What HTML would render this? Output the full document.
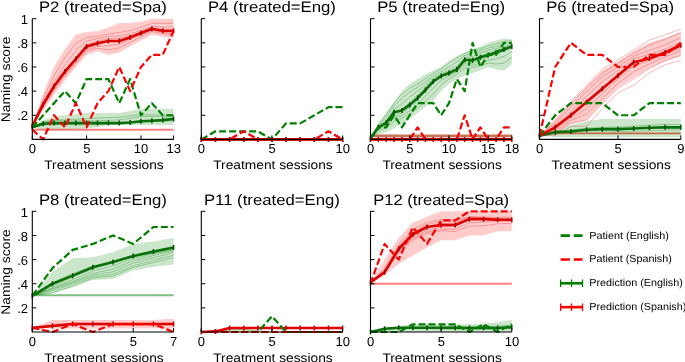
<!DOCTYPE html>
<html><head><meta charset="utf-8"><style>
html,body{margin:0;padding:0;background:#fff;width:685px;height:362px;overflow:hidden}
svg{display:block;will-change:transform}
text{font-family:"Liberation Sans",sans-serif;fill:#000;text-rendering:geometricPrecision}
</style></head><body>
<svg width="685" height="362" viewBox="0 0 685 362">
<rect width="685" height="362" fill="#fff"/>
<polygon points="32.3,127.33 43.17,120.09 54.04,116.47 64.91,115.26 75.78,114.05 86.65,113.09 97.52,113.09 108.38,113.09 119.25,113.09 130.12,111.04 140.99,108.74 151.86,108.74 162.73,108.74 173.6,108.74 173.6,124.92 162.73,124.92 151.86,124.92 140.99,124.92 130.12,124.92 119.25,124.92 108.38,124.92 97.52,127.33 86.65,128.54 75.78,129.14 64.91,129.74 54.04,129.74 43.17,129.74 32.3,127.33" fill="rgb(204,230,204)"/>
<polygon points="32.3,126.12 43.17,93.53 54.04,66.98 64.91,48.88 75.78,34.39 86.65,31.98 97.52,31.13 108.38,27.51 119.25,23.05 130.12,22.92 140.99,21.72 151.86,18.7 162.73,18.7 173.6,18.7 173.6,38.37 162.73,36.81 151.86,34.75 140.99,40.43 130.12,46.46 119.25,52.5 108.38,54.91 97.52,51.29 86.65,54.91 75.78,66.98 64.91,80.26 54.04,94.74 43.17,110.43 32.3,126.12" fill="rgb(255,204,204)"/>
<polyline points="32.3,127.33 43.17,125.21 54.04,124.57 64.91,124.64 75.78,124.75 86.65,124.89 97.52,124.67 108.38,123.79 119.25,123.74 130.12,123.22 140.99,122.19 151.86,121.62 162.73,121.21 173.6,120.54" fill="none" stroke="rgba(0,128,0,0.35)" stroke-width="0.9"/>
<polyline points="32.3,127.33 43.17,122.34 54.04,120.76 64.91,120.73 75.78,120.83 86.65,120.88 97.52,120.81 108.38,120.4 119.25,119.85 130.12,118.28 140.99,116.54 151.86,116.47 162.73,116.66 173.6,116.35" fill="none" stroke="rgba(0,128,0,0.35)" stroke-width="0.9"/>
<polyline points="32.3,127.33 43.17,121.77 54.04,119.92 64.91,119.7 75.78,119.3 86.65,118.66 97.52,118.16 108.38,117.63 119.25,117.32 130.12,115.94 140.99,114.6 151.86,114.98 162.73,115.17 173.6,114.62" fill="none" stroke="rgba(0,128,0,0.35)" stroke-width="0.9"/>
<polyline points="32.3,126.12 43.17,107.41 54.04,90.27 64.91,75.75 75.78,63.18 86.65,51.35 97.52,48.21 108.38,49.75 119.25,47.92 130.12,42.38 140.99,36.67 151.86,31.62 162.73,33.68 173.6,34.76" fill="none" stroke="rgba(230,0,0,0.3)" stroke-width="0.9"/>
<polyline points="32.3,126.12 43.17,105.73 54.04,88.37 64.91,74.14 75.78,61.79 86.65,49.66 97.52,46.2 108.38,45.61 119.25,44.18 130.12,39.51 140.99,34.6 151.86,30.3 162.73,32.57 173.6,33.43" fill="none" stroke="rgba(230,0,0,0.3)" stroke-width="0.9"/>
<polyline points="32.3,126.12 43.17,104.79 54.04,87.31 64.91,73 75.78,60.45 86.65,47.78 97.52,44.06 108.38,41.78 119.25,41.29 130.12,37.66 140.99,33.44 151.86,29.56 162.73,31.77 173.6,32.14" fill="none" stroke="rgba(230,0,0,0.3)" stroke-width="0.9"/>
<polyline points="32.3,126.12 43.17,103.77 54.04,85.83 64.91,70.98 75.78,57.47 86.65,44.76 97.52,41.23 108.38,38.6 119.25,38.17 130.12,35.82 140.99,32.31 151.86,28.6 162.73,30.45 173.6,30" fill="none" stroke="rgba(230,0,0,0.3)" stroke-width="0.9"/>
<polyline points="32.3,126.12 43.17,102.01 54.04,81.69 64.91,65.09 75.78,50.65 86.65,41.03 97.52,38.67 108.38,36.43 119.25,35.89 130.12,33.95 140.99,30.47 151.86,26.42 162.73,27.31 173.6,26.66" fill="none" stroke="rgba(230,0,0,0.3)" stroke-width="0.9"/>
<polyline points="32.3,126.12 43.17,98.9 54.04,75.49 64.91,57.76 75.78,43.5 86.65,37.57 97.52,36.35 108.38,34.09 119.25,32.47 130.12,30.55 140.99,27.25 151.86,23.15 162.73,23.42 173.6,23.17" fill="none" stroke="rgba(230,0,0,0.3)" stroke-width="0.9"/>
<line x1="32.3" y1="129.74" x2="173.6" y2="129.74" stroke="rgba(255,0,0,0.5)" stroke-width="1.9"/>
<polyline points="32.3,127.33 43.17,123.71 54.04,123.11 64.91,123.11 75.78,123.11 86.65,123.11 97.52,123.11 108.38,123.11 119.25,123.11 130.12,122.5 140.99,121.3 151.86,120.69 162.73,120.09 173.6,118.88" fill="none" stroke="#0a700a" stroke-width="2.6" stroke-linejoin="round"/>
<path d="M32.3 124.83v5M43.17 121.21v5M54.04 120.61v5M64.91 120.61v5M75.78 120.61v5M86.65 120.61v5M97.52 120.61v5M108.38 120.61v5M119.25 120.61v5M130.12 120v5M140.99 118.8v5M151.86 118.19v5M162.73 117.59v5M173.6 116.38v5" stroke="#005000" stroke-width="1.5"/>
<polyline points="32.3,126.12 43.17,104.4 54.04,86.29 64.91,71.57 75.78,59.01 86.65,46.46 97.52,43.2 108.38,41.03 119.25,41.03 130.12,37.41 140.99,32.94 151.86,28.84 162.73,30.77 173.6,30.77" fill="none" stroke="#dc0000" stroke-width="2.6" stroke-linejoin="round"/>
<path d="M32.3 123.62v5M43.17 101.9v5M54.04 83.79v5M64.91 69.07v5M75.78 56.51v5M86.65 43.96v5M97.52 40.7v5M108.38 38.53v5M119.25 38.53v5M130.12 34.91v5M140.99 30.44v5M151.86 26.34v5M162.73 28.27v5M173.6 28.27v5" stroke="#b00000" stroke-width="1.5"/>
<polyline points="32.3,127.33 43.17,115.26 54.04,103.19 64.91,91.12 75.78,103.19 86.65,79.05 97.52,79.05 108.38,79.05 119.25,103.19 130.12,79.05 140.99,115.26 151.86,103.19 162.73,115.26 173.6,115.26" fill="none" stroke="#008000" stroke-width="2.2" stroke-dasharray="7 3" stroke-linejoin="round"/>
<polyline points="32.3,129.74 43.17,139.4 54.04,115.26 64.91,127.33 75.78,103.19 86.65,127.33 97.52,103.19 108.38,91.12 119.25,66.98 130.12,91.12 140.99,66.98 151.86,54.91 162.73,54.91 173.6,30.77" fill="none" stroke="#ff0000" stroke-width="2.2" stroke-dasharray="7 3" stroke-linejoin="round"/>
<path d="M32.3 18.4V139.4H173.6" fill="none" stroke="#000" stroke-width="1.1"/>
<path d="M32.3 115.26h4M32.3 91.12h4M32.3 66.98h4M32.3 42.84h4M32.3 18.7h4M32.3 139.4v-4M86.65 139.4v-4M140.99 139.4v-4M173.6 139.4v-4" stroke="#000" stroke-width="1"/>
<text x="28" y="120.46" text-anchor="end" font-size="13">.2</text>
<text x="28" y="96.32" text-anchor="end" font-size="13">.4</text>
<text x="28" y="72.18" text-anchor="end" font-size="13">.6</text>
<text x="28" y="48.04" text-anchor="end" font-size="13">.8</text>
<text x="28" y="23.9" text-anchor="end" font-size="13">1</text>
<text transform="translate(9.7 79.4) rotate(-90)" text-anchor="middle" font-size="12.6" textLength="85.5" lengthAdjust="spacingAndGlyphs">Naming score</text>
<text x="32.4" y="153" text-anchor="middle" font-size="13">0</text>
<text x="86.75" y="153" text-anchor="middle" font-size="13">5</text>
<text x="141.09" y="153" text-anchor="middle" font-size="13">10</text>
<text x="173.7" y="153" text-anchor="middle" font-size="13">13</text>
<text x="103.95" y="169.3" text-anchor="middle" font-size="12.4" textLength="119.5" lengthAdjust="spacingAndGlyphs">Treatment sessions</text>
<text x="102.95" y="11.9" text-anchor="middle" font-size="15.1" textLength="128" lengthAdjust="spacingAndGlyphs">P2 (treated=Spa)</text>
<polyline points="201.3,139.4 215.43,139.4 229.56,139.4 243.69,139.4 257.82,139.4 271.95,139.4 286.08,139.4 300.21,139.4 314.34,139.4 328.47,139.4 342.6,139.4" fill="none" stroke="#008000" stroke-width="2.6" stroke-linejoin="round"/>
<path d="M201.3 136.9v5M215.43 136.9v5M229.56 136.9v5M243.69 136.9v5M257.82 136.9v5M271.95 136.9v5M286.08 136.9v5M300.21 136.9v5M314.34 136.9v5M328.47 136.9v5M342.6 136.9v5" stroke="#005000" stroke-width="1.5"/>
<polyline points="201.3,139.4 215.43,139.4 229.56,139.4 243.69,139.4 257.82,139.4 271.95,139.4 286.08,139.4 300.21,139.4 314.34,139.4 328.47,139.4 342.6,139.4" fill="none" stroke="#f00000" stroke-width="2.6" stroke-linejoin="round"/>
<path d="M201.3 136.9v5M215.43 136.9v5M229.56 136.9v5M243.69 136.9v5M257.82 136.9v5M271.95 136.9v5M286.08 136.9v5M300.21 136.9v5M314.34 136.9v5M328.47 136.9v5M342.6 136.9v5" stroke="#b00000" stroke-width="1.5"/>
<polyline points="201.3,139.4 215.43,131.31 229.56,131.31 243.69,131.31 257.82,131.31 271.95,139.4 286.08,123.35 300.21,123.35 314.34,115.26 328.47,107.17 342.6,107.17" fill="none" stroke="#008000" stroke-width="2.2" stroke-dasharray="7 3" stroke-linejoin="round"/>
<polyline points="201.3,139.4 215.43,139.4 229.56,139.4 243.69,131.31 257.82,139.4 271.95,139.4 286.08,139.4 300.21,139.4 314.34,139.4 328.47,131.31 342.6,139.4" fill="none" stroke="#ff0000" stroke-width="2.2" stroke-dasharray="7 3" stroke-linejoin="round"/>
<path d="M201.3 18.4V139.4H342.6" fill="none" stroke="#000" stroke-width="1.1"/>
<path d="M201.3 115.26h4M201.3 91.12h4M201.3 66.98h4M201.3 42.84h4M201.3 18.7h4M201.3 139.4v-4M271.95 139.4v-4M342.6 139.4v-4" stroke="#000" stroke-width="1"/>
<text x="201.4" y="153" text-anchor="middle" font-size="13">0</text>
<text x="272.05" y="153" text-anchor="middle" font-size="13">5</text>
<text x="342.7" y="153" text-anchor="middle" font-size="13">10</text>
<text x="272.95" y="169.3" text-anchor="middle" font-size="12.4" textLength="119.5" lengthAdjust="spacingAndGlyphs">Treatment sessions</text>
<text x="271.95" y="11.9" text-anchor="middle" font-size="15.1" textLength="128" lengthAdjust="spacingAndGlyphs">P4 (treated=Eng)</text>
<polygon points="370.5,138.19 378.35,123.71 386.2,112.85 394.05,101.98 401.9,91.12 409.75,83.88 417.6,79.05 425.45,74.22 433.3,70.6 441.15,66.98 449,60.95 456.85,56.12 464.7,52.5 472.55,48.88 480.4,46.46 488.25,42.84 496.1,40.43 503.95,38.62 511.8,39.22 511.8,64.57 503.95,70.6 496.1,69.39 488.25,66.98 480.4,70.6 472.55,73.02 464.7,75.43 456.85,79.05 449,83.88 441.15,91.12 433.3,100.78 425.45,106.81 417.6,112.85 409.75,118.88 401.9,123.71 394.05,128.54 386.2,132.16 378.35,134.57 370.5,138.19" fill="rgb(204,230,204)"/>
<polygon points="370.5,139.4 378.35,135.78 386.2,135.78 394.05,135.78 401.9,135.78 409.75,135.78 417.6,135.78 425.45,135.78 433.3,135.78 441.15,135.78 449,135.78 456.85,135.78 464.7,135.78 472.55,135.78 480.4,135.78 488.25,135.78 496.1,135.78 503.95,135.78 511.8,135.78 511.8,139.4 503.95,139.4 496.1,139.4 488.25,139.4 480.4,139.4 472.55,139.4 464.7,139.4 456.85,139.4 449,139.4 441.15,139.4 433.3,139.4 425.45,139.4 417.6,139.4 409.75,139.4 401.9,139.4 394.05,139.4 386.2,139.4 378.35,139.4 370.5,139.4" fill="rgb(255,204,204)"/>
<polyline points="370.5,138.19 378.35,131.3 386.2,127.71 394.05,120.95 401.9,118.04 409.75,113.67 417.6,107.94 425.45,101.38 433.3,94.03 441.15,85.06 449,78.96 456.85,74.42 464.7,68.08 472.55,67.62 480.4,65.68 488.25,63 496.1,63.96 503.95,63.2 511.8,57.28" fill="none" stroke="rgba(0,128,0,0.35)" stroke-width="0.9"/>
<polyline points="370.5,138.19 378.35,129.29 386.2,125.61 394.05,117.97 401.9,115.73 409.75,110.88 417.6,104.25 425.45,96.33 433.3,87.74 441.15,80.29 449,75.96 456.85,72.26 464.7,65.2 472.55,65.41 480.4,63.01 488.25,59.98 496.1,58.89 503.95,56.32 511.8,51.55" fill="none" stroke="rgba(0,128,0,0.35)" stroke-width="0.9"/>
<polyline points="370.5,138.19 378.35,128.17 386.2,124.45 394.05,115.85 401.9,113.48 409.75,107.77 417.6,100.33 425.45,91.67 433.3,82.87 441.15,77.21 449,74.29 456.85,71.05 464.7,63.13 472.55,63.25 480.4,60.05 488.25,56.78 496.1,54.23 503.95,51 511.8,47.88" fill="none" stroke="rgba(0,128,0,0.35)" stroke-width="0.9"/>
<polyline points="370.5,138.19 378.35,127.12 386.2,122.62 394.05,112.09 401.9,109.22 409.75,102.42 417.6,94.9 425.45,87.09 433.3,79.74 441.15,75.04 449,72.33 456.85,69.08 464.7,59.55 472.55,59.61 480.4,56.04 488.25,52.93 496.1,50.33 503.95,47.76 511.8,45.67" fill="none" stroke="rgba(0,128,0,0.35)" stroke-width="0.9"/>
<polyline points="370.5,138.19 378.35,126.53 386.2,120.48 394.05,109.4 401.9,103.88 409.75,97 417.6,90.89 425.45,84.58 433.3,78.36 441.15,73.87 449,70.36 456.85,66.22 464.7,57.66 472.55,56.43 480.4,53.24 488.25,50.39 496.1,48.41 503.95,46.39 511.8,44.74" fill="none" stroke="rgba(0,128,0,0.35)" stroke-width="0.9"/>
<polyline points="370.5,138.19 378.35,125.5 386.2,117.26 394.05,106.05 401.9,98.27 409.75,91.99 417.6,87.24 425.45,81.86 433.3,76.29 441.15,71.74 449,66.89 456.85,61.95 464.7,55.33 472.55,53.12 480.4,50.66 488.25,48.07 496.1,46.31 503.95,44.31 511.8,43.03" fill="none" stroke="rgba(0,128,0,0.35)" stroke-width="0.9"/>
<polyline points="370.5,138.19 378.35,124.32 386.2,114.13 394.05,103.25 401.9,94.08 409.75,88.2 417.6,83.9 425.45,78.61 433.3,73.49 441.15,68.98 449,62.95 456.85,57.81 464.7,53.38 472.55,50.64 480.4,48.71 488.25,45.94 496.1,43.8 503.95,41.49 511.8,40.81" fill="none" stroke="rgba(0,128,0,0.35)" stroke-width="0.9"/>
<line x1="370.5" y1="135.78" x2="511.8" y2="135.78" stroke="rgb(200,115,85)" stroke-width="2.4"/>
<polyline points="370.5,139.4 378.35,139.4 386.2,139.4 394.05,139.4 401.9,139.4 409.75,139.4 417.6,139.4 425.45,139.4 433.3,139.4 441.15,139.4 449,139.4 456.85,139.4 464.7,139.4 472.55,139.4 480.4,139.4 488.25,139.4 496.1,139.4 503.95,139.4 511.8,139.4" fill="none" stroke="#f00000" stroke-width="2.6" stroke-linejoin="round"/>
<path d="M370.5 136.9v5M378.35 136.9v5M386.2 136.9v5M394.05 136.9v5M401.9 136.9v5M409.75 136.9v5M417.6 136.9v5M425.45 136.9v5M433.3 136.9v5M441.15 136.9v5M449 136.9v5M456.85 136.9v5M464.7 136.9v5M472.55 136.9v5M480.4 136.9v5M488.25 136.9v5M496.1 136.9v5M503.95 136.9v5M511.8 136.9v5" stroke="#b00000" stroke-width="1.5"/>
<polyline points="370.5,138.19 378.35,127.33 386.2,122.86 394.05,112.36 401.9,110.43 409.75,104.88 417.6,98 425.45,89.91 433.3,81.46 441.15,76.03 449,73.02 456.85,69.39 464.7,59.74 472.55,60.34 480.4,57.32 488.25,54.91 496.1,52.5 503.95,49.48 511.8,46.46" fill="none" stroke="#0a700a" stroke-width="2.6" stroke-linejoin="round"/>
<path d="M370.5 135.69v5M378.35 124.83v5M386.2 120.36v5M394.05 109.86v5M401.9 107.93v5M409.75 102.38v5M417.6 95.5v5M425.45 87.41v5M433.3 78.96v5M441.15 73.53v5M449 70.52v5M456.85 66.89v5M464.7 57.24v5M472.55 57.84v5M480.4 54.82v5M488.25 52.41v5M496.1 50v5M503.95 46.98v5M511.8 43.96v5" stroke="#005000" stroke-width="1.5"/>
<polyline points="370.5,139.4 378.35,127.33 386.2,127.33 394.05,115.26 401.9,127.33 409.75,115.26 417.6,103.19 425.45,103.19 433.3,103.19 441.15,115.26 449,103.19 456.85,79.05 464.7,91.12 472.55,42.84 480.4,66.98 488.25,54.91 496.1,54.91 503.95,42.84 511.8,42.84" fill="none" stroke="#008000" stroke-width="2.2" stroke-dasharray="7 3" stroke-linejoin="round"/>
<polyline points="370.5,139.4 378.35,139.4 386.2,139.4 394.05,139.4 401.9,139.4 409.75,139.4 417.6,127.33 425.45,139.4 433.3,139.4 441.15,139.4 449,139.4 456.85,139.4 464.7,115.26 472.55,139.4 480.4,127.33 488.25,139.4 496.1,139.4 503.95,127.33 511.8,127.33" fill="none" stroke="#ff0000" stroke-width="2.2" stroke-dasharray="7 3" stroke-linejoin="round"/>
<path d="M370.5 18.4V139.4H511.8" fill="none" stroke="#000" stroke-width="1.1"/>
<path d="M370.5 115.26h4M370.5 91.12h4M370.5 66.98h4M370.5 42.84h4M370.5 18.7h4M370.5 139.4v-4M409.75 139.4v-4M449 139.4v-4M488.25 139.4v-4M511.8 139.4v-4" stroke="#000" stroke-width="1"/>
<text x="370.6" y="153" text-anchor="middle" font-size="13">0</text>
<text x="409.85" y="153" text-anchor="middle" font-size="13">5</text>
<text x="449.1" y="153" text-anchor="middle" font-size="13">10</text>
<text x="488.35" y="153" text-anchor="middle" font-size="13">15</text>
<text x="511.9" y="153" text-anchor="middle" font-size="13">18</text>
<text x="442.15" y="169.3" text-anchor="middle" font-size="12.4" textLength="119.5" lengthAdjust="spacingAndGlyphs">Treatment sessions</text>
<text x="441.15" y="11.9" text-anchor="middle" font-size="15.1" textLength="128" lengthAdjust="spacingAndGlyphs">P5 (treated=Eng)</text>
<polygon points="539.5,135.78 555.2,128.54 570.9,124.92 586.6,121.3 602.3,118.88 618,118.88 633.7,118.88 649.4,118.88 665.1,118.88 680.8,118.88 680.8,136.99 665.1,136.99 649.4,136.99 633.7,136.99 618,136.99 602.3,136.99 586.6,136.99 570.9,136.99 555.2,136.99 539.5,135.78" fill="rgb(204,230,204)"/>
<polygon points="539.5,135.78 555.2,121.3 570.9,103.19 586.6,86.29 602.3,70.6 618,60.95 633.7,51.29 649.4,42.84 665.1,38.01 680.8,31.98 680.8,56.12 665.1,60.95 649.4,68.19 633.7,77.84 618,87.5 602.3,103.19 586.6,120.09 570.9,123.71 555.2,133.37 539.5,135.78" fill="rgb(255,204,204)"/>
<polyline points="539.5,135.78 555.2,133.12 570.9,132.48 586.6,131.05 602.3,130.89 618,131.32 633.7,131.24 649.4,130.75 665.1,130.23 680.8,129.73" fill="none" stroke="rgba(0,128,0,0.35)" stroke-width="0.9"/>
<polyline points="539.5,135.78 555.2,131.87 570.9,131.2 586.6,129.72 602.3,129.52 618,129.75 633.7,129.13 649.4,127.97 665.1,127.12 680.8,126.76" fill="none" stroke="rgba(0,128,0,0.35)" stroke-width="0.9"/>
<polyline points="539.5,135.78 555.2,131.13 570.9,130.03 586.6,128.18 602.3,127.39 618,127.15 633.7,126.19 649.4,125.08 665.1,124.56 680.8,124.61" fill="none" stroke="rgba(0,128,0,0.35)" stroke-width="0.9"/>
<polyline points="539.5,135.78 555.2,135.47 570.9,126.42 586.6,126.08 602.3,108.6 618,92.67 633.7,85.21 649.4,72.81 665.1,64.75 680.8,60.45" fill="none" stroke="rgba(230,0,0,0.3)" stroke-width="0.9"/>
<polyline points="539.5,135.78 555.2,132.89 570.9,123.25 586.6,120.03 602.3,103.9 618,88.44 633.7,78.95 649.4,68.48 665.1,60.73 680.8,55.38" fill="none" stroke="rgba(230,0,0,0.3)" stroke-width="0.9"/>
<polyline points="539.5,135.78 555.2,130.74 570.9,120.5 586.6,114.03 602.3,98.55 618,83.35 633.7,71.67 649.4,63.88 665.1,56.91 680.8,50.99" fill="none" stroke="rgba(230,0,0,0.3)" stroke-width="0.9"/>
<polyline points="539.5,135.78 555.2,129.4 570.9,118.44 586.6,108.76 602.3,93.59 618,78.84 633.7,65.86 649.4,60.66 665.1,54.53 680.8,48.4" fill="none" stroke="rgba(230,0,0,0.3)" stroke-width="0.9"/>
<polyline points="539.5,135.78 555.2,127.81 570.9,115.78 586.6,102.25 602.3,87.99 618,74.34 633.7,61.33 649.4,57.9 665.1,52.61 680.8,45.92" fill="none" stroke="rgba(230,0,0,0.3)" stroke-width="0.9"/>
<polyline points="539.5,135.78 555.2,125.79 570.9,111.53 586.6,96.36 602.3,81.83 618,70.16 633.7,58.7 649.4,54.4 665.1,49.22 680.8,42.28" fill="none" stroke="rgba(230,0,0,0.3)" stroke-width="0.9"/>
<polyline points="539.5,135.78 555.2,123.51 570.9,107.15 586.6,91.35 602.3,77 618,66.83 633.7,56.24 649.4,50.37 665.1,44.76 680.8,37.57" fill="none" stroke="rgba(230,0,0,0.3)" stroke-width="0.9"/>
<polyline points="539.5,135.78 555.2,121.42 570.9,103.57 586.6,87.46 602.3,72.94 618,63.41 633.7,53.23 649.4,45.19 665.1,39.42 680.8,32.59" fill="none" stroke="rgba(230,0,0,0.3)" stroke-width="0.9"/>
<polyline points="539.5,135.78 555.2,120.07 570.9,101.36 586.6,84.72 602.3,69.31 618,59.79 633.7,49.97 649.4,40.08 665.1,34.84 680.8,28.94" fill="none" stroke="rgba(230,0,0,0.3)" stroke-width="0.9"/>
<line x1="539.5" y1="133.37" x2="680.8" y2="133.37" stroke="rgb(195,105,70)" stroke-width="1.8"/>
<polyline points="539.5,135.78 555.2,132.16 570.9,131.55 586.6,129.74 602.3,129.14 618,129.14 633.7,128.54 649.4,127.69 665.1,127.33 680.8,127.33" fill="none" stroke="#0a700a" stroke-width="2.6" stroke-linejoin="round"/>
<path d="M539.5 133.28v5M555.2 129.66v5M570.9 129.05v5M586.6 127.24v5M602.3 126.64v5M618 126.64v5M633.7 126.04v5M649.4 125.19v5M665.1 124.83v5M680.8 124.83v5" stroke="#005000" stroke-width="1.5"/>
<polyline points="539.5,135.78 555.2,127.33 570.9,115.26 586.6,101.98 602.3,88.71 618,75.43 633.7,62.15 649.4,58.53 665.1,52.5 680.8,45.25" fill="none" stroke="#dc0000" stroke-width="2.6" stroke-linejoin="round"/>
<path d="M539.5 133.28v5M555.2 124.83v5M570.9 112.76v5M586.6 99.48v5M602.3 86.21v5M618 72.93v5M633.7 59.65v5M649.4 56.03v5M665.1 50v5M680.8 42.75v5" stroke="#b00000" stroke-width="1.5"/>
<polyline points="539.5,135.78 555.2,115.26 570.9,103.19 586.6,103.19 602.3,103.19 618,115.26 633.7,115.26 649.4,103.19 665.1,103.19 680.8,103.19" fill="none" stroke="#008000" stroke-width="2.2" stroke-dasharray="7 3" stroke-linejoin="round"/>
<polyline points="539.5,135.78 555.2,66.98 570.9,42.84 586.6,54.91 602.3,54.91 618,66.98 633.7,66.98 649.4,54.91 665.1,54.91 680.8,42.84" fill="none" stroke="#ff0000" stroke-width="2.2" stroke-dasharray="7 3" stroke-linejoin="round"/>
<path d="M539.5 18.4V139.4H680.8" fill="none" stroke="#000" stroke-width="1.1"/>
<path d="M539.5 115.26h4M539.5 91.12h4M539.5 66.98h4M539.5 42.84h4M539.5 18.7h4M539.5 139.4v-4M618 139.4v-4M680.8 139.4v-4" stroke="#000" stroke-width="1"/>
<text x="539.6" y="153" text-anchor="middle" font-size="13">0</text>
<text x="618.1" y="153" text-anchor="middle" font-size="13">5</text>
<text x="680.9" y="153" text-anchor="middle" font-size="13">9</text>
<text x="611.15" y="169.3" text-anchor="middle" font-size="12.4" textLength="119.5" lengthAdjust="spacingAndGlyphs">Treatment sessions</text>
<text x="610.15" y="11.9" text-anchor="middle" font-size="15.1" textLength="128" lengthAdjust="spacingAndGlyphs">P6 (treated=Spa)</text>
<polygon points="32.3,295.79 52.49,271.65 72.67,258.37 92.86,257.17 113.04,252.34 133.23,243.89 153.41,241.47 173.6,237.85 173.6,264.41 153.41,266.82 133.23,270.44 113.04,278.89 92.86,280.1 72.67,287.34 52.49,293.38 32.3,295.79" fill="rgb(204,230,204)"/>
<polygon points="32.3,327.9 52.49,319.93 72.67,319.93 92.86,319.93 113.04,319.93 133.23,319.93 153.41,319.93 173.6,318.72 173.6,328.38 153.41,328.38 133.23,328.38 113.04,328.38 92.86,328.38 72.67,328.38 52.49,328.38 32.3,327.9" fill="rgb(255,204,204)"/>
<polyline points="32.3,295.79 52.49,292.79 72.67,286.02 92.86,278.23 113.04,276.02 133.23,267.43 153.41,262.5 173.6,257.53" fill="none" stroke="rgba(0,128,0,0.35)" stroke-width="0.9"/>
<polyline points="32.3,295.79 52.49,290.61 72.67,284.05 92.86,276.66 113.04,274.23 133.23,265.76 153.41,260.48 173.6,255.22" fill="none" stroke="rgba(0,128,0,0.35)" stroke-width="0.9"/>
<polyline points="32.3,295.79 52.49,289.13 72.67,282.63 92.86,275.12 113.04,271.79 133.23,263.28 153.41,257.79 173.6,252.66" fill="none" stroke="rgba(0,128,0,0.35)" stroke-width="0.9"/>
<polyline points="32.3,295.79 52.49,288.43 72.67,281.57 92.86,273.46 113.04,269.02 133.23,260.79 153.41,255.55 173.6,250.95" fill="none" stroke="rgba(0,128,0,0.35)" stroke-width="0.9"/>
<polyline points="32.3,295.79 52.49,287.36 72.67,279.71 92.86,271 113.04,265.75 133.23,258.47 153.41,253.9 173.6,249.93" fill="none" stroke="rgba(0,128,0,0.35)" stroke-width="0.9"/>
<polyline points="32.3,295.79 52.49,285.58 72.67,277.22 92.86,268.38 113.04,263 133.23,256.92 153.41,252.96 173.6,249.24" fill="none" stroke="rgba(0,128,0,0.35)" stroke-width="0.9"/>
<polyline points="32.3,295.79 52.49,282.73 72.67,273.61 92.86,266.12 113.04,261.2 133.23,255.55 153.41,251.67 173.6,247.79" fill="none" stroke="rgba(0,128,0,0.35)" stroke-width="0.9"/>
<polyline points="32.3,327.9 52.49,326.44 72.67,324.75 92.86,324.76 113.04,324.86 133.23,324.96 153.41,324.96 173.6,324.82" fill="none" stroke="rgba(230,0,0,0.3)" stroke-width="0.9"/>
<polyline points="32.3,327.9 52.49,325.49 72.67,323.82 92.86,324.02 113.04,324.22 133.23,324.3 153.41,324.24 173.6,324.11" fill="none" stroke="rgba(230,0,0,0.3)" stroke-width="0.9"/>
<polyline points="32.3,327.9 52.49,324.27 72.67,323.13 92.86,323.34 113.04,323.44 133.23,323.42 153.41,323.37 173.6,323.17" fill="none" stroke="rgba(230,0,0,0.3)" stroke-width="0.9"/>
<line x1="32.3" y1="295.31" x2="173.6" y2="295.31" stroke="rgba(0,128,0,0.5)" stroke-width="1.9"/>
<polyline points="32.3,327.9 52.49,325.96 72.67,324.03 92.86,324.03 113.04,324.03 133.23,324.03 153.41,324.03 173.6,324.03" fill="none" stroke="#dc0000" stroke-width="2.6" stroke-linejoin="round"/>
<path d="M32.3 325.4v5M52.49 323.46v5M72.67 321.53v5M92.86 321.53v5M113.04 321.53v5M133.23 321.53v5M153.41 321.53v5M173.6 321.53v5" stroke="#b00000" stroke-width="1.5"/>
<polyline points="32.3,295.79 52.49,283.72 72.67,275.63 92.86,267.3 113.04,261.99 133.23,255.96 153.41,251.61 173.6,247.51" fill="none" stroke="#0a700a" stroke-width="2.6" stroke-linejoin="round"/>
<path d="M32.3 293.29v5M52.49 281.22v5M72.67 273.13v5M92.86 264.8v5M113.04 259.49v5M133.23 253.46v5M153.41 249.11v5M173.6 245.01v5" stroke="#005000" stroke-width="1.5"/>
<polyline points="32.3,295.79 52.49,268.03 72.67,249.92 92.86,243.89 113.04,235.44 133.23,243.89 153.41,226.99 173.6,226.99" fill="none" stroke="#008000" stroke-width="2.2" stroke-dasharray="7 3" stroke-linejoin="round"/>
<polyline points="32.3,327.9 52.49,332 72.67,324.03 92.86,332 113.04,324.03 133.23,324.03 153.41,324.03 173.6,332" fill="none" stroke="#ff0000" stroke-width="2.2" stroke-dasharray="7 3" stroke-linejoin="round"/>
<path d="M32.3 211V332H173.6" fill="none" stroke="#000" stroke-width="1.1"/>
<path d="M32.3 307.86h4M32.3 283.72h4M32.3 259.58h4M32.3 235.44h4M32.3 211.3h4M32.3 332v-4M133.23 332v-4M173.6 332v-4" stroke="#000" stroke-width="1"/>
<text x="28" y="313.06" text-anchor="end" font-size="13">.2</text>
<text x="28" y="288.92" text-anchor="end" font-size="13">.4</text>
<text x="28" y="264.78" text-anchor="end" font-size="13">.6</text>
<text x="28" y="240.64" text-anchor="end" font-size="13">.8</text>
<text x="28" y="216.5" text-anchor="end" font-size="13">1</text>
<text transform="translate(9.7 272) rotate(-90)" text-anchor="middle" font-size="12.6" textLength="85.5" lengthAdjust="spacingAndGlyphs">Naming score</text>
<text x="32.4" y="345.6" text-anchor="middle" font-size="13">0</text>
<text x="133.33" y="345.6" text-anchor="middle" font-size="13">5</text>
<text x="173.7" y="345.6" text-anchor="middle" font-size="13">7</text>
<text x="103.95" y="361.9" text-anchor="middle" font-size="12.4" textLength="119.5" lengthAdjust="spacingAndGlyphs">Treatment sessions</text>
<text x="102.95" y="204.5" text-anchor="middle" font-size="15.1" textLength="128" lengthAdjust="spacingAndGlyphs">P8 (treated=Eng)</text>
<polygon points="201.3,332 215.43,332 229.56,329.59 243.69,328.98 257.82,330.55 271.95,332 286.08,332 300.21,332 314.34,332 328.47,332 342.6,332 342.6,332 328.47,332 314.34,332 300.21,332 286.08,332 271.95,332 257.82,332 243.69,332 229.56,332 215.43,332 201.3,332" fill="rgb(204,230,204)"/>
<polyline points="201.3,332 215.43,332 229.56,329.88 243.69,329.38 257.82,330.8 271.95,332 286.08,332 300.21,332 314.34,332 328.47,332 342.6,332" fill="none" stroke="rgba(0,128,0,0.35)" stroke-width="0.9"/>
<polyline points="201.3,332 215.43,331.4 229.56,328.02 243.69,328.02 257.82,328.02 271.95,328.02 286.08,328.02 300.21,328.02 314.34,328.02 328.47,328.02 342.6,328.02" fill="none" stroke="#e80000" stroke-width="2.6" stroke-linejoin="round"/>
<path d="M201.3 329.5v5M215.43 328.9v5M229.56 325.52v5M243.69 325.52v5M257.82 325.52v5M271.95 325.52v5M286.08 325.52v5M300.21 325.52v5M314.34 325.52v5M328.47 325.52v5M342.6 325.52v5" stroke="#b00000" stroke-width="1.5"/>
<polyline points="201.3,332 215.43,332 229.56,332 243.69,332 257.82,332 271.95,316.31 286.08,332 300.21,332 314.34,332 328.47,332 342.6,332" fill="none" stroke="#008000" stroke-width="2.2" stroke-dasharray="7 3" stroke-linejoin="round"/>
<polyline points="201.3,332 215.43,332 229.56,332 243.69,332 257.82,332 271.95,332 286.08,332 300.21,332 314.34,332 328.47,332 342.6,332" fill="none" stroke="#ff0000" stroke-width="2.2" stroke-dasharray="7 3" stroke-linejoin="round"/>
<path d="M201.3 211V332H342.6" fill="none" stroke="#000" stroke-width="1.1"/>
<path d="M201.3 307.86h4M201.3 283.72h4M201.3 259.58h4M201.3 235.44h4M201.3 211.3h4M201.3 332v-4M271.95 332v-4M342.6 332v-4" stroke="#000" stroke-width="1"/>
<text x="201.4" y="345.6" text-anchor="middle" font-size="13">0</text>
<text x="272.05" y="345.6" text-anchor="middle" font-size="13">5</text>
<text x="342.7" y="345.6" text-anchor="middle" font-size="13">10</text>
<text x="272.95" y="361.9" text-anchor="middle" font-size="12.4" textLength="119.5" lengthAdjust="spacingAndGlyphs">Treatment sessions</text>
<text x="271.95" y="204.5" text-anchor="middle" font-size="15.1" textLength="136" lengthAdjust="spacingAndGlyphs">P11 (treated=Eng)</text>
<polygon points="370.5,332 384.63,328.38 398.76,325.96 412.89,324.28 427.02,324.28 441.15,324.28 455.28,324.28 469.41,324.28 483.54,323.55 497.67,322.34 511.8,319.93 511.8,332 497.67,332 483.54,332 469.41,332 455.28,332 441.15,332 427.02,332 412.89,332 398.76,332 384.63,332 370.5,332" fill="rgb(204,230,204)"/>
<polygon points="370.5,282.51 384.63,259.58 398.76,237.85 412.89,222.65 427.02,216.73 441.15,211.3 455.28,211.3 469.41,211.3 483.54,211.3 497.67,211.3 511.8,211.3 511.8,231.34 497.67,231.34 483.54,235.44 469.41,235.44 455.28,240.27 441.15,240.27 427.02,247.51 412.89,255.48 398.76,263.68 384.63,275.27 370.5,282.51" fill="rgb(255,204,204)"/>
<polyline points="370.5,332 384.63,329.39 398.76,328.5 412.89,328.54 427.02,328.72 441.15,328.95 455.28,329.13 469.41,329.33 483.54,329.04 497.67,329.01 511.8,328.13" fill="none" stroke="rgba(0,128,0,0.35)" stroke-width="0.9"/>
<polyline points="370.5,332 384.63,328.71 398.76,327.68 412.89,327.76 427.02,327.98 441.15,328.11 455.28,328.07 469.41,328.14 483.54,327.67 497.67,327.63 511.8,326.6" fill="none" stroke="rgba(0,128,0,0.35)" stroke-width="0.9"/>
<polyline points="370.5,332 384.63,328.64 398.76,327.36 412.89,327.13 427.02,327.18 441.15,327.1 455.28,326.92 469.41,326.91 483.54,326.39 497.67,326.19 511.8,325.12" fill="none" stroke="rgba(0,128,0,0.35)" stroke-width="0.9"/>
<polyline points="370.5,282.51 384.63,273.07 398.76,252.78 412.89,240.2 427.02,233.62 441.15,230.81 455.28,231.44 469.41,226.13 483.54,225.67 497.67,223.79 511.8,223.2" fill="none" stroke="rgba(230,0,0,0.3)" stroke-width="0.9"/>
<polyline points="370.5,282.51 384.63,272.51 398.76,250.9 412.89,238.41 427.02,232.1 441.15,229.29 455.28,229.18 469.41,222.89 483.54,222 497.67,221.28 511.8,221.15" fill="none" stroke="rgba(230,0,0,0.3)" stroke-width="0.9"/>
<polyline points="370.5,282.51 384.63,272.28 398.76,250.22 412.89,237.32 427.02,230.27 441.15,227.13 455.28,226.38 469.41,219.7 483.54,219.19 497.67,219.84 511.8,220.29" fill="none" stroke="rgba(230,0,0,0.3)" stroke-width="0.9"/>
<polyline points="370.5,282.51 384.63,271.66 398.76,248.67 412.89,234.16 427.02,226.55 441.15,223.72 455.28,223.09 469.41,217.89 483.54,218.06 497.67,218.99 511.8,219.44" fill="none" stroke="rgba(230,0,0,0.3)" stroke-width="0.9"/>
<polyline points="370.5,282.51 384.63,270.63 398.76,247.22 412.89,232.08 427.02,224.53 441.15,221.28 455.28,221.27 469.41,217.26 483.54,217.69 497.67,218.58 511.8,218.74" fill="none" stroke="rgba(230,0,0,0.3)" stroke-width="0.9"/>
<polyline points="370.5,282.51 384.63,268.29 398.76,244.81 412.89,229.5 427.02,222.58 441.15,219.36 455.28,220 469.41,216.69 483.54,216.98 497.67,217.44 511.8,217.15" fill="none" stroke="rgba(230,0,0,0.3)" stroke-width="0.9"/>
<line x1="370.5" y1="283.72" x2="511.8" y2="283.72" stroke="rgba(255,0,0,0.5)" stroke-width="1.9"/>
<polyline points="370.5,332 384.63,328.74 398.76,327.78 412.89,327.78 427.02,327.78 441.15,327.78 455.28,327.78 469.41,328.02 483.54,327.78 497.67,328.02 511.8,327.17" fill="none" stroke="#0a700a" stroke-width="2.6" stroke-linejoin="round"/>
<path d="M370.5 329.5v5M384.63 326.24v5M398.76 325.28v5M412.89 325.28v5M427.02 325.28v5M441.15 325.28v5M455.28 325.28v5M469.41 325.52v5M483.54 325.28v5M497.67 325.52v5M511.8 324.67v5" stroke="#005000" stroke-width="1.5"/>
<polyline points="370.5,282.51 384.63,272.13 398.76,248.72 412.89,234.23 427.02,226.99 441.15,225.06 455.28,225.06 469.41,219.15 483.54,219.15 497.67,219.75 511.8,219.75" fill="none" stroke="#dc0000" stroke-width="2.6" stroke-linejoin="round"/>
<path d="M370.5 280.01v5M384.63 269.63v5M398.76 246.22v5M412.89 231.73v5M427.02 224.49v5M441.15 222.56v5M455.28 222.56v5M469.41 216.65v5M483.54 216.65v5M497.67 217.25v5M511.8 217.25v5" stroke="#b00000" stroke-width="1.5"/>
<polyline points="370.5,332 384.63,332 398.76,332 412.89,324.28 427.02,324.28 441.15,324.28 455.28,324.28 469.41,332 483.54,324.28 497.67,332 511.8,324.28" fill="none" stroke="#008000" stroke-width="2.2" stroke-dasharray="7 3" stroke-linejoin="round"/>
<polyline points="370.5,283.72 384.63,243.89 398.76,259.58 412.89,227.35 427.02,243.89 441.15,220.35 455.28,220.35 469.41,211.3 483.54,211.3 497.67,211.3 511.8,211.3" fill="none" stroke="#ff0000" stroke-width="2.2" stroke-dasharray="7 3" stroke-linejoin="round"/>
<path d="M370.5 211V332H511.8" fill="none" stroke="#000" stroke-width="1.1"/>
<path d="M370.5 307.86h4M370.5 283.72h4M370.5 259.58h4M370.5 235.44h4M370.5 211.3h4M370.5 332v-4M441.15 332v-4M511.8 332v-4" stroke="#000" stroke-width="1"/>
<text x="370.6" y="345.6" text-anchor="middle" font-size="13">0</text>
<text x="441.25" y="345.6" text-anchor="middle" font-size="13">5</text>
<text x="511.9" y="345.6" text-anchor="middle" font-size="13">10</text>
<text x="442.15" y="361.9" text-anchor="middle" font-size="12.4" textLength="119.5" lengthAdjust="spacingAndGlyphs">Treatment sessions</text>
<text x="441.15" y="204.5" text-anchor="middle" font-size="15.1" textLength="136" lengthAdjust="spacingAndGlyphs">P12 (treated=Spa)</text>
<line x1="560.6" y1="235.6" x2="582.5" y2="235.6" stroke="#008000" stroke-width="2.6" stroke-dasharray="9.3 3.8"/>
<text x="589.3" y="238.6" font-size="10.3" textLength="79.5" lengthAdjust="spacingAndGlyphs">Patient (English)</text>
<line x1="560.6" y1="259.45" x2="582.5" y2="259.45" stroke="#ff0000" stroke-width="2.6" stroke-dasharray="9.3 3.8"/>
<text x="589.3" y="262.45" font-size="10.3" textLength="82.5" lengthAdjust="spacingAndGlyphs">Patient (Spanish)</text>
<line x1="560.1" y1="283.3" x2="583" y2="283.3" stroke="#008000" stroke-width="2.6"/>
<path d="M560.6 279.55v7.5M571.55 279.55v7.5M582.5 279.55v7.5" stroke="#008000" stroke-width="1.3"/>
<text x="589.3" y="286.3" font-size="10.3" textLength="93.5" lengthAdjust="spacingAndGlyphs">Prediction (English)</text>
<line x1="560.1" y1="307.15" x2="583" y2="307.15" stroke="#ff0000" stroke-width="2.6"/>
<path d="M560.6 303.4v7.5M571.55 303.4v7.5M582.5 303.4v7.5" stroke="#ff0000" stroke-width="1.3"/>
<text x="589.3" y="310.15" font-size="10.3" textLength="97" lengthAdjust="spacingAndGlyphs">Prediction (Spanish)</text>
</svg>
</body></html>
